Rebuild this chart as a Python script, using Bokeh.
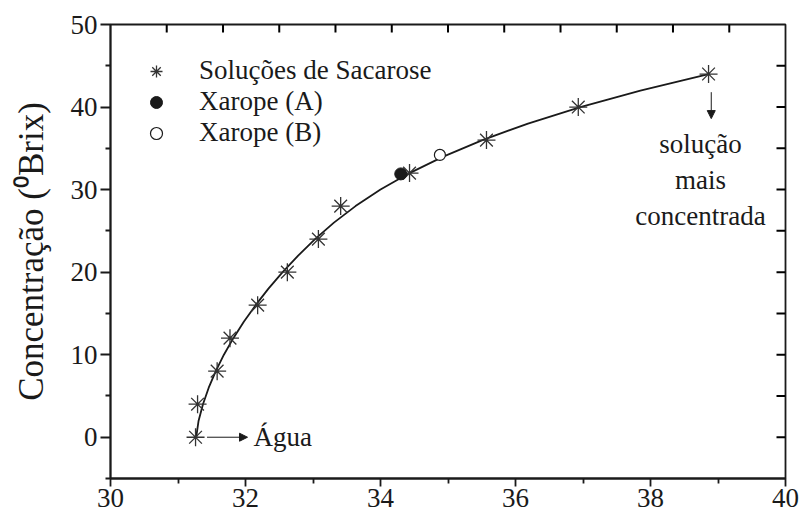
from bokeh.plotting import figure
from bokeh.models import (Range1d, FixedTicker, Legend, LegendItem,
                          Arrow, NormalHead, Label)
from bokeh.embed import file_html
from bokeh.resources import INLINE

# ---------------- data ----------------
sac_x = [31.26, 31.29, 31.58, 31.77, 32.18, 32.62, 33.08, 33.41, 34.43, 35.57, 36.93, 38.86]
sac_y = [0, 4, 8, 12, 16, 20, 24, 28, 32, 36, 40, 44]

xa_x = [34.30]
xa_y = [31.9]
xb_x = [34.88]
xb_y = [34.2]

fit_x = [31.27, 31.305, 31.37, 31.455, 31.56, 31.68, 31.82, 31.975, 32.15, 32.34,
         32.55, 32.78, 33.03, 33.31, 33.63, 34.0, 34.43, 34.93, 35.51, 36.185,
         36.96, 37.85, 38.86]
fit_y = [0, 2, 4, 6, 8, 10, 12, 14, 16, 18, 20, 22, 24, 26, 28, 30, 32, 34, 36, 38,
         40, 42, 44]

x_ticks = [30, 32, 34, 36, 38, 40]
x_minor = [31, 33, 35, 37, 39]
y_ticks = [0, 10, 20, 30, 40, 50]
y_minor = [-5, 5, 15, 25, 35, 45]
right_ticks = [0, 5, 10, 15, 20, 25, 30, 35, 40, 45]
top_ticks = [30.833, 31.667, 32.5, 33.333, 34.167, 35.0, 35.833, 36.667, 37.5,
             38.333, 39.167]

legend_labels = ["Soluções de Sacarose", "Xarope (A)", "Xarope (B)"]
y_label = "Concentração (⁰Brix)"
note_water = "Água"
note_conc = ["solução", "mais", "concentrada"]

FONT = "Liberation Serif"
INK = "#1a1a1a"
X0, X1, Y0, Y1 = 30, 40, -5, 50
W, H = 801, 518
BL, BR, BT, BB = 110, 16, 24, 40
FRAME_W = W - BL - BR
FRAME_H = H - BT - BB

p = figure(width=W, height=H, x_range=Range1d(X0, X1), y_range=Range1d(Y0, Y1),
           output_backend="svg", toolbar_location=None,
           min_border_left=BL, min_border_right=BR, min_border_top=BT,
           min_border_bottom=BB)
p.grid.visible = False
p.outline_line_color = INK
p.outline_line_width = 1.8
p.background_fill_color = "white"
p.border_fill_color = "white"

# bottom axis
xa = p.xaxis[0]
xa.ticker = FixedTicker(ticks=x_ticks, minor_ticks=x_minor)
xa.axis_line_width = 1.8
xa.axis_line_color = INK
xa.major_tick_line_color = INK
xa.minor_tick_line_color = INK
xa.major_tick_line_width = 1.8
xa.minor_tick_line_width = 1.8
xa.major_tick_in = 0
xa.major_tick_out = 8
xa.minor_tick_in = 0
xa.minor_tick_out = 5
xa.major_label_text_font = FONT
xa.major_label_text_font_size = "27px"
xa.major_label_text_color = INK
xa.major_label_standoff = 2

# left axis
ya = p.yaxis[0]
ya.ticker = FixedTicker(ticks=y_ticks, minor_ticks=y_minor)
ya.axis_line_width = 1.8
ya.axis_line_color = INK
ya.major_tick_line_color = INK
ya.minor_tick_line_color = INK
ya.major_tick_line_width = 1.8
ya.minor_tick_line_width = 1.8
ya.major_tick_in = 0
ya.major_tick_out = 10
ya.minor_tick_in = 0
ya.minor_tick_out = 5
ya.major_label_text_font = FONT
ya.major_label_text_font_size = "27px"
ya.major_label_text_color = INK
ya.major_label_standoff = 3
ya.axis_label = y_label
ya.axis_label_text_font = FONT
ya.axis_label_text_font_size = "35px"
ya.axis_label_text_font_style = "normal"
ya.axis_label_text_color = INK
ya.axis_label_standoff = 17

# inward ticks on right and top frame edges (no labels)
dx_tick = 9 * (X1 - X0) / FRAME_W
dy_tick = 8 * (Y1 - Y0) / FRAME_H
p.segment(x0=[X1] * len(right_ticks), y0=right_ticks,
          x1=[X1 - dx_tick] * len(right_ticks), y1=right_ticks,
          line_color="black", line_width=2)
p.segment(x0=top_ticks, y0=[Y1] * len(top_ticks),
          x1=top_ticks, y1=[Y1 - dy_tick] * len(top_ticks),
          line_color="black", line_width=2)

# fitted curve
p.line(fit_x, fit_y, line_color=INK, line_width=1.8)

# markers
r_sac = p.scatter(sac_x, sac_y, marker="asterisk", size=18, line_color="#333333",
                  line_width=1.3)
r_a = p.scatter(xa_x, xa_y, marker="circle", size=12, fill_color=INK, line_color=INK)
r_b = p.scatter(xb_x, xb_y, marker="circle", size=11, fill_color="white",
                line_color=INK, line_width=1.2)

legend = Legend(items=[LegendItem(label=legend_labels[0], renderers=[r_sac]),
                       LegendItem(label=legend_labels[1], renderers=[r_a]),
                       LegendItem(label=legend_labels[2], renderers=[r_b])],
                location=(28, 330), border_line_color=None,
                background_fill_alpha=0, padding=0, margin=0, spacing=0,
                label_height=30, glyph_height=30, glyph_width=36,
                label_standoff=25, label_text_font=FONT,
                label_text_font_size="27px", label_text_color=INK)
p.add_layout(legend)

# annotations
p.add_layout(Arrow(end=NormalHead(size=8, fill_color=INK, line_color=INK),
                   x_start=31.43, y_start=0, x_end=32.03, y_end=0,
                   line_color=INK, line_width=1))
p.add_layout(Label(x=32.12, y=0, text=note_water, text_baseline="middle",
                   text_font=FONT, text_font_size="27px", text_color=INK))

p.add_layout(Arrow(end=NormalHead(size=8, fill_color=INK, line_color=INK),
                   x_start=38.90, y_start=41.8, x_end=38.90, y_end=38.6,
                   line_color=INK, line_width=1))
for txt, yy in zip(note_conc, [35.57, 31.2, 26.8]):
    p.add_layout(Label(x=38.74, y=yy, text=txt, text_align="center",
                       text_baseline="alphabetic", text_font=FONT,
                       text_font_size="27px", text_color=INK))

open("out.html", "w").write(file_html(p, INLINE))
